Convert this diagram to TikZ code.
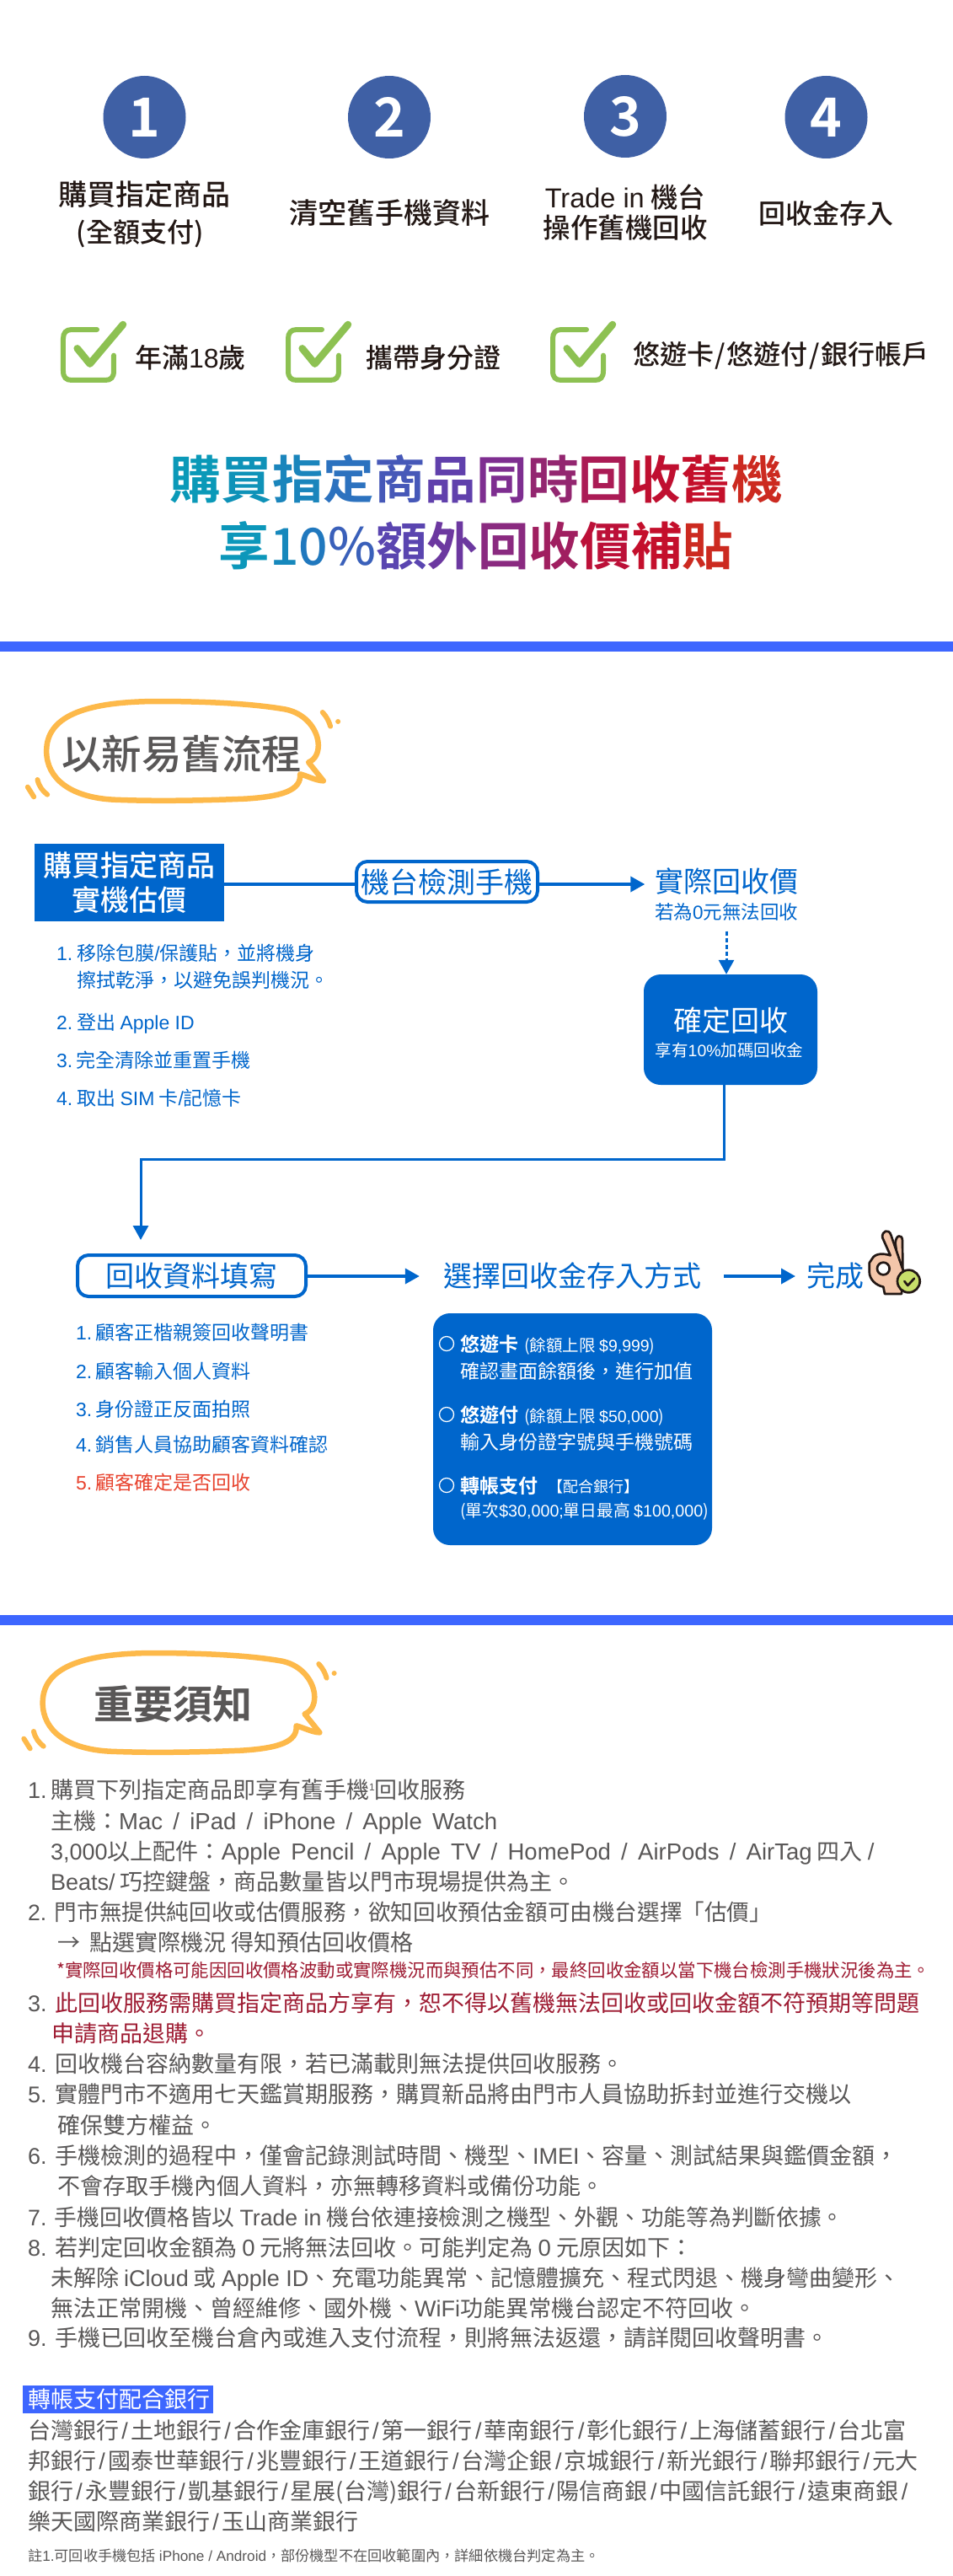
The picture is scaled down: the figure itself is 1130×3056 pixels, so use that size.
\documentclass[tikz,border=0pt]{standalone}
\usepackage{fontspec}
\usetikzlibrary{arrows.meta}
\setmainfont{Noto Sans CJK TC}
\newfontfamily\med{Noto Sans CJK TC Medium}
\newfontfamily\bld{Noto Sans CJK TC Bold}
\newfontfamily\latf{Liberation Sans}
\newfontfamily\latn[Scale=1.02,WordSpace=1.6]{Liberation Sans}
\newcommand\La[1]{{\latf #1}}
\newcommand\Lb[1]{{\latn #1}}
\definecolor{fb}{HTML}{0066CC}
\definecolor{band}{HTML}{3D66FF}
\definecolor{ink}{HTML}{231815}
\definecolor{gry}{HTML}{595757}
\definecolor{wine}{HTML}{9E1B32}
\definecolor{amber}{HTML}{FDB94A}
\definecolor{leaf}{HTML}{8DC152}
\definecolor{numbl}{HTML}{3F60A5}
\definecolor{redt}{HTML}{E8432E}
\newcommand\cc[2]{\textcolor[HTML]{#1}{#2}}
\newcommand\sz[1]{\fontsize{#1}{#1}\selectfont}
% [options]{name}{x}{y centre of CJK em box}{size}{text}
\newcommand\tl[6][]{\node[inner sep=0pt,anchor=base west,#1] (#2) at (#3,{#4+0.38*#5}) {\sz{#5}#6};}
\newcommand\tc[6][]{\node[inner sep=0pt,anchor=base,#1] (#2) at (#3,{#4+0.38*#5}) {\sz{#5}#6};}
\newcommand\ns[1]{\La{#1.}\hspace*{9.5pt}}
\newcommand\bs{\hspace*{3.2pt}\La{/}\hspace*{3.2pt}}
\tikzset{
  numdot/.style={circle,fill=numbl,text=white,inner sep=0pt,minimum size=98pt,font=\sz{64}\bld},
  pill/.style={draw=fb,line width=4pt,fill=white,rounded corners=13pt,inner sep=0pt,text=fb,font=\sz{34}},
  solidbox/.style={fill=fb,inner sep=0pt},
  conn/.style={draw=fb,line width=3.6pt},
  thinconn/.style={draw=fb,line width=3pt},
  tip/.style={-{Triangle[length=17pt,width=18pt]}},
  wave/.style={draw=amber,line width=6.5pt,line cap=round,line join=round},
  tickbox/.style={draw=leaf,line width=6pt,line cap=round},
  tickmark/.style={draw=leaf,line width=8.5pt,line cap=round,line join=round},
  band/.style={fill=band,minimum height=12pt,inner sep=0pt,minimum width=1136pt},
}
\newcommand\wavepath{
  \draw[wave] (92,210) .. controls (92,90) and (220,35) .. (480,33)
    .. controls (700,33) and (850,45) .. (945,62)
    .. controls (1020,78) and (1060,140) .. (1060,190)
    .. controls (1060,215) and (1050,240) .. (1025,250)
    -- (1078,316)
    .. controls (1050,315) and (1020,298) .. (995,292)
    .. controls (1000,350) and (930,372) .. (800,380)
    .. controls (600,388) and (450,388) .. (330,383)
    .. controls (180,375) and (92,310) .. cycle;
  \draw[wave,line width=6pt] (1075,72) .. controls (1090,88) and (1098,105) .. (1103,122);
  \fill[amber] (1130,105) circle (9);
  \draw[wave,line width=6pt] (25,338) -- (47,373);
  \draw[wave,line width=6pt] (60,312) .. controls (65,335) and (78,352) .. (95,365);
}
\newcommand\tickicon{
  \draw[tickbox] (165,48) -- (75,48) .. controls (55,48) and (45,60) .. (45,80) -- (45,195)
    .. controls (45,218) and (55,228) .. (75,228) -- (195,228)
    .. controls (215,228) and (225,218) .. (225,195) -- (225,140);
  \draw[tickmark] (95,115) -- (140,170) -- (258,30);
}
\begin{document}
\begin{tikzpicture}[x=1pt,y=-1pt]
\useasboundingbox (0,0) rectangle (1130,3056);
\fill[white] (0,0) rectangle (1130,3056);

% steps
\node[numdot] (n1) at (171.5,139) {1};
\node[numdot] (n2) at (462,139) {2};
\node[numdot] (n3) at (742,138) {3};
\node[numdot] (n4) at (980.5,139) {4};
\tc[text=ink]{s1a}{171}{231}{34}{\med 購買指定商品}
\tc[text=ink]{s1b}{166}{275}{32}{\med (全額支付)}
\tc[text=ink]{s2}{462}{253}{34}{\med 清空舊手機資料}
\tc[text=ink]{s3a}{742}{234}{32.5}{\med {\latf Trade in} 機台}
\tc[text=ink]{s3b}{742}{270}{32.5}{\med 操作舊機回收}
\tc[text=ink]{s4}{980}{253}{32}{\med 回收金存入}

% ticks
\begin{scope}[shift={(60,375)},x=0.3333pt,y=-0.3333pt]\tickicon\end{scope}
\begin{scope}[shift={(327,375)},x=0.3333pt,y=-0.3333pt]\tickicon\end{scope}
\begin{scope}[shift={(641,375)},x=0.3333pt,y=-0.3333pt]\tickicon\end{scope}
\tl[text=ink]{r1}{160}{424}{32}{\med 年滿{\latf 18}歲}
\tl[text=ink]{r2}{434}{424}{32}{\med 攜帶身分證}
\tl[text=ink]{r3}{751}{420}{32}{\med 悠遊卡\hspace*{1.5pt}/\hspace*{1.5pt}悠遊付\hspace*{1.5pt}/\hspace*{1.5pt}銀行帳戶}

% headline
\tc{h1}{565.5}{568}{60.6}{\bld\cc{0A99B8}{購}\cc{0E92B8}{買}\cc{1A85BC}{指}\cc{2C72BF}{定}\cc{4658B8}{商}\cc{6040AC}{品}\cc{7E2E90}{同}\cc{932670}{時}\cc{AB1B55}{回}\cc{C00F30}{收}\cc{C40F2A}{舊}\cc{CC2A20}{機}}
\tc{h2}{565}{647}{60.6}{\bld\cc{0C97BA}{享}{\med\cc{1688BC}{1}\cc{2078BE}{0}\cc{3A60BA}{\%}}\cc{5A45B0}{額}\cc{6C38A0}{外}\cc{8A2A80}{回}\cc{A01F60}{收}\cc{BC1038}{價}\cc{C40F2C}{補}\cc{CC2A20}{貼}}

\node[band] (b1) at (565,767) {};
\node[band] (b2) at (565,1921.5) {};

% bubble 1
\begin{scope}[shift={(24.5,821)},x=0.3333pt,y=-0.3333pt]\wavepath\end{scope}
\tc[text=gry]{t1}{215.5}{894}{47.5}{\med 以新易舊流程}

% flow top
\coordinate (l1) at (0,1049);
\node[solidbox,minimum width=225pt,minimum height=92pt,text=white,align=center,font=\fontsize{34}{41}\med] (buy) at (153.5,1047) {購買指定商品\\實機估價};
\node[pill,minimum width=215pt,minimum height=48pt] (scan) at (530.5,1046) {機台檢測手機};
\tc[text=fb]{price}{862.5}{1046}{34}{實際回收價}
\tc[text=fb]{pnote}{862}{1082}{22.5}{若為{\latf 0}元無法回收}
\node[solidbox,rounded corners=20pt,minimum width=206pt,minimum height=131pt] (ok) at (867,1221.5) {};
\tc[text=white]{okt}{867.5}{1211}{34}{確定回收}
\tc[text=white]{oks}{865.5}{1246}{19.5}{享有{\latf 10\%}加碼回收金}
\draw[conn] (buy.east |- l1) -- (scan.west |- l1);
\draw[conn,tip,shorten >=12pt] (scan.east |- l1) -- (price.west |- l1);
\draw[thinconn,tip,dash pattern=on 5pt off 3pt,shorten <=12pt] (pnote.south) -- (pnote.south |- ok.north);
\coordinate (c1) at (859,1375);
\coordinate (c2) at (167,1375);

\tl[text=fb]{a1}{67}{1131}{23}{\La{1.}\hspace*{5pt}移除包膜\La{/}保護貼，並將機身}
\tl[text=fb]{a1b}{91}{1163}{23}{擦拭乾淨，以避免誤判機況。}
\tl[text=fb]{a2}{67}{1213}{23}{\La{2.}\hspace*{5pt}登出 \La{Apple ID}}
\tl[text=fb]{a3}{67}{1258}{23}{\La{3.}\hspace*{4pt}完全清除並重置手機}
\tl[text=fb]{a4}{67}{1303}{23}{\La{4.}\hspace*{5pt}取出 \La{SIM} 卡\La{/}記憶卡}

% flow bottom
\node[pill,minimum width=271pt,minimum height=49pt] (form) at (227.5,1513.5) {回收資料填寫};
\draw[thinconn,tip,shorten >=16pt] (c1 |- ok.south) -- (c1) -- (c2) -- (c2 |- form.north);
\tc[text=fb]{pick}{679}{1514}{34}{選擇回收金存入方式}
\tl[text=fb]{done}{957}{1514}{34}{完成}
\coordinate (l2) at (0,1514);
\draw[conn,tip,shorten >=28pt] (form.east |- l2) -- (pick.west |- l2);
\draw[conn,tip,shorten <=27pt,shorten >=13pt] (pick.east |- l2) -- (done.west |- l2);

% hand
\begin{scope}[shift={(1020,1450)},x=0.3333pt,y=-0.3333pt,line width=2.7pt,line join=round]
  \draw[draw=ink,fill={rgb,255:red,244;green,198;blue,170}] (128,75) .. controls (128,45) and (152,40) .. (153,65) -- (154,170) -- (140,170) -- cycle;
  \draw[draw=ink,fill={rgb,255:red,244;green,198;blue,170}] (82,55) .. controls (78,30) and (105,22) .. (112,45) -- (155,170) -- (150,255) -- (90,255) -- (85,230) .. controls (60,225) and (35,205) .. (35,175) -- (35,145) -- (45,130) .. controls (55,110) and (85,110) .. (110,118) -- cycle;
  \draw[draw=ink,fill=white] (85,165) circle (22);
  \draw[draw=ink,fill={rgb,255:red,200;green,223;blue,106}] (175,210) circle (40);
  \draw[draw=ink,line cap=round] (160,210) -- (172,225) -- (195,200);
  \fill[ink] (217,212) circle (3);
\end{scope}

\tl[text=fb]{f1}{90}{1581}{23}{\La{1.}\hspace*{4pt}顧客正楷親簽回收聲明書}
\tl[text=fb]{f2}{90}{1627}{23}{\La{2.}\hspace*{4pt}顧客輸入個人資料}
\tl[text=fb]{f3}{90}{1672}{23}{\La{3.}\hspace*{4pt}身份證正反面拍照}
\tl[text=fb]{f4}{90}{1714}{23}{\La{4.}\hspace*{4pt}銷售人員協助顧客資料確認}
\tl[text=redt]{f5}{90}{1759}{23}{\La{5.}\hspace*{4pt}顧客確定是否回收}

% panel
\node[solidbox,rounded corners=20pt,minimum width=331pt,minimum height=275pt] (panel) at (679.5,1695.5) {};
\tikzset{ring/.style={draw=white,line width=1.3pt,circle,minimum size=17pt,inner sep=0pt}}
\node[ring] (o1) at (530,1594) {};
\tl[text=white]{p1}{546}{1595}{23}{\bld 悠遊卡}
\tl[text=white]{p1s}{622}{1596}{19.5}{(餘額上限 \La{\$9,999})}
\tl[text=white]{p1b}{546}{1627}{23}{確認畫面餘額後，進行加值}
\node[ring] (o2) at (530,1678) {};
\tl[text=white]{p2}{546}{1679}{23}{\bld 悠遊付}
\tl[text=white]{p2s}{622}{1680}{19.5}{(餘額上限 \La{\$50,000})}
\tl[text=white]{p2b}{546}{1711}{23}{輸入身份證字號與手機號碼}
\node[ring] (o3) at (530,1762) {};
\tl[text=white]{p3}{546}{1763}{23}{\bld 轉帳支付}
\tl[text=white]{p3s}{650}{1764}{18}{【配合銀行】}
\tl[text=white]{p3b}{546}{1792}{19.7}{(單次\La{\$30,000;}單日最高 \La{\$100,000})}

% bubble 2
\begin{scope}[shift={(20,1950)},x=0.3333pt,y=-0.3333pt]\wavepath\end{scope}
\tc[text=gry]{t2}{205.5}{2022}{47}{\bld 重要須知}

% notes
\tl[text=gry]{m1}{33}{2123}{27}{\La{1.}\hspace*{4.5pt}購買下列指定商品即享有舊手機\raisebox{9pt}{\sz{12}\La{1}}回收服務}
\tl[text=gry]{m1a}{60}{2160}{27}{主機：\Lb{Mac / iPad / iPhone / Apple Watch}}
\tl[text=gry]{m1b}{60}{2196}{27}{\La{3,000}以上配件：\Lb{Apple Pencil / Apple TV / HomePod / AirPods / AirTag} 四入 \Lb{/}}
\tl[text=gry]{m1c}{60}{2232}{27}{\La{Beats/} 巧控鍵盤，商品數量皆以門市現場提供為主。}
\tl[text=gry]{m2}{33}{2268}{26.6}{\ns{2}門市無提供純回收或估價服務，欲知回收預估金額可由機台選擇「估價」}
\tl[text=gry]{m2a}{68}{2304}{27}{→\hspace*{11pt}點選實際機況 得知預估回收價格}
\tl[text=wine]{m2b}{67}{2337}{21.4}{*實際回收價格可能因回收價格波動或實際機況而與預估不同，最終回收金額以當下機台檢測手機狀況後為主。}
\tl[text=gry]{m3}{33}{2376}{27}{\ns{3}\textcolor{wine}{此回收服務需購買指定商品方享有，恕不得以舊機無法回收或回收金額不符預期等問題}}
\tl[text=wine]{m3a}{61}{2412}{27}{申請商品退購。}
\tl[text=gry]{m4}{33}{2448}{27}{\ns{4}回收機台容納數量有限，若已滿載則無法提供回收服務。}
\tl[text=gry]{m5}{33}{2484}{27}{\ns{5}實體門市不適用七天鑑賞期服務，購買新品將由門市人員協助拆封並進行交機以}
\tl[text=gry]{m5a}{68}{2521}{27}{確保雙方權益。}
\tl[text=gry]{m6}{33}{2557}{27}{\ns{6}手機檢測的過程中，僅會記錄測試時間、機型、\La{IMEI}、容量、測試結果與鑑價金額，}
\tl[text=gry]{m6a}{68}{2593}{27}{不會存取手機內個人資料，亦無轉移資料或備份功能。}
\tl[text=gry]{m7}{33}{2630}{26.7}{\ns{7}手機回收價格皆以 \La{Trade in} 機台依連接檢測之機型、外觀、功能等為判斷依據。}
\tl[text=gry]{m8}{33}{2666}{27}{\ns{8}若判定回收金額為 \Lb{0} 元將無法回收。可能判定為 \Lb{0} 元原因如下：}
\tl[text=gry]{m8a}{60}{2702}{27}{未解除 \La{iCloud} 或 \La{Apple ID}、充電功能異常、記憶體擴充、程式閃退、機身彎曲變形、}
\tl[text=gry]{m8b}{60}{2738}{27}{無法正常開機、曾經維修、國外機、\La{WiFi}功能異常機台認定不符回收。}
\tl[text=gry]{m9}{33}{2773}{27}{\ns{9}手機已回收至機台倉內或進入支付流程，則將無法返還，請詳閱回收聲明書。}

% banks
\node[fill=band,minimum width=226pt,minimum height=33pt,inner sep=0pt] (bankbg) at (140,2846.5) {};
\tl[text=white]{bankh}{33}{2846}{27}{轉帳支付配合銀行}
\tl[text=gry]{k1}{33}{2883}{27}{台灣銀行\bs 土地銀行\bs 合作金庫銀行\bs 第一銀行\bs 華南銀行\bs 彰化銀行\bs 上海儲蓄銀行\bs 台北富}
\tl[text=gry]{k2}{33}{2919}{27}{邦銀行\bs 國泰世華銀行\bs 兆豐銀行\bs 王道銀行\bs 台灣企銀\bs 京城銀行\bs 新光銀行\bs 聯邦銀行\bs 元大}
\tl[text=gry]{k3}{33}{2955}{27}{銀行\bs 永豐銀行\bs 凱基銀行\bs 星展(台灣)銀行\bs 台新銀行\bs 陽信商銀\bs 中國信託銀行\bs 遠東商銀\bs}
\tl[text=gry]{k4}{33}{2991}{27}{樂天國際商業銀行\bs 玉山商業銀行}
\tl[text=gry]{note}{33}{3032}{17.2}{註\La{1.}可回收手機包括 \La{iPhone / Android}，部份機型不在回收範圍內，詳細依機台判定為主。}
\end{tikzpicture}
\end{document}
